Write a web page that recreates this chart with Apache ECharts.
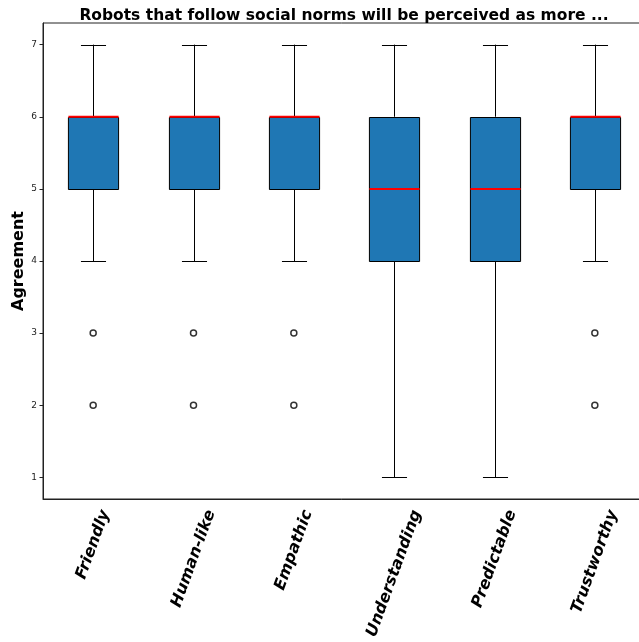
<!DOCTYPE html>
<html>
<head>
<meta charset="utf-8">
<script src="https://cdn.jsdelivr.net/npm/echarts@6/dist/echarts.min.js"></script>
<style>
html,body{margin:0;padding:0;background:#fff;overflow:hidden;}
#chart{width:639px;height:642px;}
</style>
</head>
<body>
<div id="chart"></div>
<script>
const categories = ['Friendly', 'Human-like', 'Empathic', 'Understanding', 'Predictable', 'Trustworthy'];
const mins    = [4, 4, 4, 1, 1, 4];
const q1s     = [5, 5, 5, 4, 4, 5];
const medians = [6, 6, 6, 5, 5, 6];
const q3s     = [6, 6, 6, 6, 6, 6];
const maxs    = [7, 7, 7, 7, 7, 7];
const outlierCats   = [0, 0, 1, 1, 2, 2, 5, 5];
const outlierValues = [3, 2, 3, 2, 3, 2, 3, 2];
const yTicks = [1, 2, 3, 4, 5, 6, 7];
const yMin = 0.7, yMax = 7.3;

const boxData = categories.map((c, i) => [i, mins[i], q1s[i], medians[i], q3s[i], maxs[i]]);
const outlierData = outlierCats.map((c, i) => [c, outlierValues[i]]);
const labelData = categories.map((c, i) => [i, yMin]);

const chart = echarts.init(document.getElementById('chart'), null, {renderer: 'canvas'});
const FONT = 'DejaVu Sans';
const LABEL_SIZE = 16;
const LABEL_FONT = 'italic bold ' + LABEL_SIZE + 'px "DejaVu Sans"';
const mctx = document.createElement('canvas').getContext('2d');
mctx.font = LABEL_FONT;
const ROT = 70 * Math.PI / 180;

chart.setOption({
  animation: false,
  backgroundColor: '#fff',
  title: {
    text: 'Robots that follow social norms will be perceived as more ...',
    left: 339,
    textAlign: 'center',
    top: 3,
    textStyle: {fontFamily: FONT, fontSize: 15.5, fontWeight: 'bold', color: '#000'}
  },
  grid: {
    left: 43, top: 23, width: 602, height: 476,
    outerBoundsMode: 'none',
    containLabel: false,
    show: true, borderColor: '#222', borderWidth: 1, backgroundColor: 'transparent'
  },
  xAxis: {
    type: 'category',
    data: categories,
    boundaryGap: true,
    axisLine: {lineStyle: {color: '#222', width: 1}},
    axisTick: {alignWithLabel: true, length: 4, lineStyle: {color: '#222'}},
    axisLabel: {show: false},
    splitLine: {show: false}
  },
  yAxis: {
    type: 'value',
    min: yMin, max: yMax,
    name: 'Agreement',
    nameLocation: 'middle',
    nameGap: 16,
    nameMoveOverlap: false,
    nameTextStyle: {fontFamily: FONT, fontSize: 16, fontWeight: 'bold', color: '#000'},
    axisLine: {show: true, lineStyle: {color: '#222', width: 1}},
    axisTick: {show: true, length: 3.5, lineStyle: {color: '#222'}, customValues: yTicks},
    axisLabel: {fontFamily: FONT, fontSize: 9, color: '#222', margin: 6, customValues: yTicks},
    splitLine: {show: false}
  },
  series: [
    {
      type: 'custom',
      data: boxData,
      encode: {x: 0, y: [1, 2, 3, 4, 5]},
      renderItem: function (params, api) {
        const i = api.value(0);
        const pMin = api.coord([i, api.value(1)]);
        const pQ1 = api.coord([i, api.value(2)]);
        const pMed = api.coord([i, api.value(3)]);
        const pQ3 = api.coord([i, api.value(4)]);
        const pMax = api.coord([i, api.value(5)]);
        const bw = api.size([1, 0])[0] * 0.5;
        const cw = bw * 0.5;
        const x = Math.round(pQ1[0]) + 0.5;
        const lineStyle = {stroke: '#000', lineWidth: 1};
        return {
          type: 'group',
          children: [
            {type: 'line', shape: {x1: x, y1: pQ1[1], x2: x, y2: pMin[1]}, style: lineStyle},
            {type: 'line', shape: {x1: x, y1: pQ3[1], x2: x, y2: pMax[1]}, style: lineStyle},
            {type: 'line', shape: {x1: x - cw / 2, y1: Math.round(pMin[1]) + 0.5, x2: x + cw / 2, y2: Math.round(pMin[1]) + 0.5}, style: lineStyle},
            {type: 'line', shape: {x1: x - cw / 2, y1: Math.round(pMax[1]) + 0.5, x2: x + cw / 2, y2: Math.round(pMax[1]) + 0.5}, style: lineStyle},
            {type: 'rect', shape: {x: x - bw / 2, y: Math.round(pQ3[1]) + 0.5, width: bw, height: Math.round(pQ1[1]) - Math.round(pQ3[1])},
              style: {fill: '#1f77b4', stroke: '#000', lineWidth: 1}},
            {type: 'line', shape: {x1: x - bw / 2, y1: pMed[1], x2: x + bw / 2, y2: pMed[1]}, style: {stroke: '#ff0000', lineWidth: 2}}
          ]
        };
      },
      z: 2
    },
    {
      type: 'scatter',
      data: outlierData,
      symbol: 'circle',
      symbolSize: 6,
      itemStyle: {color: '#fff', borderColor: '#000', borderWidth: 1.5},
      z: 3
    },
    {
      type: 'custom',
      data: labelData,
      encode: {x: 0, y: 1},
      clip: false,
      silent: true,
      renderItem: function (params, api) {
        const i = api.value(0);
        const p = api.coord([i, api.value(1)]);
        const text = categories[i];
        const L = mctx.measureText(text).width;
        const h = LABEL_SIZE;
        const H = L * Math.sin(ROT) + h * Math.cos(ROT);
        return {
          type: 'text',
          x: p[0],
          y: p[1] + 9 + H / 2,
          rotation: ROT,
          style: {
            text: text,
            font: LABEL_FONT,
            fill: '#000',
            align: 'center',
            verticalAlign: 'middle'
          }
        };
      },
      z: 4
    }
  ]
});
</script>
</body>
</html>
